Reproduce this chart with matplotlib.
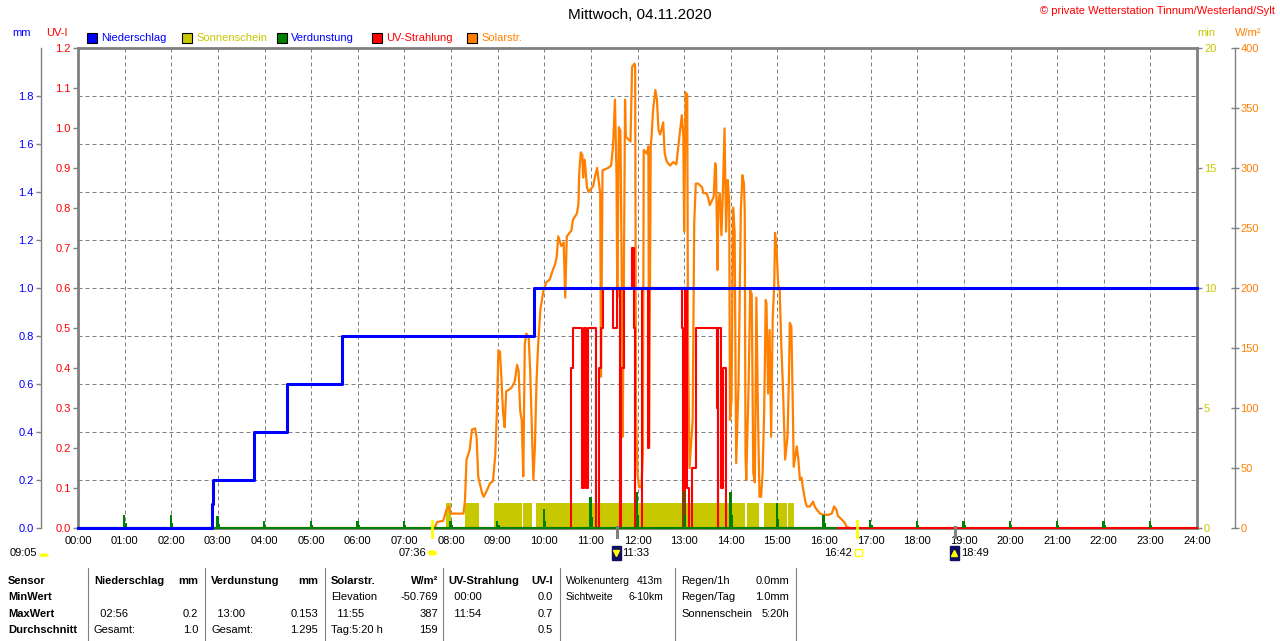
import matplotlib
matplotlib.use("Agg")
import matplotlib.pyplot as plt
import matplotlib.transforms as mtransforms
from matplotlib.patches import Rectangle, Circle, Wedge
from matplotlib.lines import Line2D

plt.rcParams['font.family'] = ['Liberation Sans', 'DejaVu Sans']

# ------------------------------------------------------------------ data
title = "Mittwoch, 04.11.2020"
copyright_text = "© private Wetterstation Tinnum/Westerland/Sylt"
hour_labels = ["%02d:00" % h for h in range(25)]

legend_names = ["Niederschlag", "Sonnenschein", "Verdunstung", "UV-Strahlung", "Solarstr."]

# Niederschlag, cumulative mm (minutes since midnight)
rain_t = [0, 172, 174, 226, 269, 340, 587, 1440]
rain_v = [0, 0.1, 0.2, 0.4, 0.6, 0.8, 1.0, 1.0]

# Verdunstung, mm per hour
evap_hours = list(range(1, 24))
evap_v = [0.055, 0.055, 0.05, 0.03, 0.03, 0.03, 0.03, 0.03, 0.03, 0.08, 0.13, 0.15,
          0.153, 0.15, 0.105, 0.055, 0.033, 0.03, 0.03, 0.03, 0.03, 0.03, 0.03]
evap_last = 976

# Sonnenschein, minutes of sun (per minute) intervals
sun_start = [474, 498, 535, 573, 589, 846, 861, 883, 914]
sun_end = [480, 516, 571, 584, 845, 858, 876, 912, 921]
sun_value = 1.05

# UV index
uv_t = [0, 635, 637, 649, 651, 654, 656, 666, 667, 671, 673, 675, 689, 694, 697, 699,
        702, 713, 715, 717, 726, 734, 735, 777, 779, 781, 784, 786, 790, 795, 822, 823,
        824, 828, 830, 834, 1440]
uv_v = [0, 0.4, 0.5, 0.1, 0.5, 0.1, 0.5, 0.2, 0, 0.4, 0.5, 0.6, 0.5, 0.6, 0, 0.4,
        0.6, 0.7, 0.5, 0, 0.6, 0.2, 0.6, 0.5, 0, 0.6, 0.1, 0, 0.15, 0.5, 0.3, 0,
        0.5, 0.1, 0.4, 0, 0]

# Solarstrahlung W/m2
solar_t = [459, 462, 470, 474, 477, 480, 496, 498, 500, 504, 507, 511, 513, 515, 520, 522,
           526, 530, 534, 537, 539, 541, 543, 545, 547, 549, 551, 554, 558, 562, 565, 567,
           569, 571, 573, 575, 577, 580, 582, 584, 586, 588, 590, 592, 595, 597, 599, 603,
           607, 610, 614, 616, 618, 622, 625, 627, 629, 635, 637, 642, 644, 645, 647, 649,
           650, 652, 655, 657, 663, 665, 668, 672, 673, 675, 682, 686, 688, 689, 691, 693,
           694, 696, 698, 700, 701, 704, 705, 711, 713, 716, 717, 718, 720, 722, 725, 727,
           728, 732, 734, 735, 737, 738, 740, 743, 745, 747, 749, 751, 753, 755, 758, 762,
           766, 770, 775, 777, 779, 780, 782, 784, 785, 787, 791, 793, 795, 798, 803, 805,
           809, 811, 813, 818, 820, 821, 823, 824, 826, 828, 830, 832, 834, 836, 838, 839,
           841, 843, 845, 847, 850, 853, 855, 857, 858, 859, 860, 863, 865, 867, 869, 871,
           873, 875, 877, 879, 881, 883, 885, 886, 888, 890, 892, 894, 896, 897, 899, 901,
           903, 905, 907, 910, 913, 915, 916, 918, 920, 921, 925, 927, 929, 931, 933, 936,
           938, 942, 946, 948, 951, 955, 959, 966, 970, 973, 976, 978, 983, 987, 989, 994]
solar_v = [0, 5, 6, 15, 18, 12, 12, 23, 57, 65, 82, 83, 75, 43, 29, 26,
           31, 37, 39, 61, 96, 148, 147, 123, 96, 84, 114, 115, 117, 122, 136, 131,
           98, 90, 43, 154, 162, 159, 129, 84, 40, 68, 121, 151, 182, 190, 198, 205,
           207, 213, 220, 226, 243, 235, 238, 192, 243, 248, 257, 262, 270, 296, 313, 311,
           292, 307, 284, 280, 285, 292, 300, 279, 126, 298, 300, 302, 315, 325, 357, 293,
           192, 334, 331, 190, 76, 357, 326, 322, 384, 387, 385, 100, 45, 34, 34, 62,
           315, 312, 318, 68, 318, 325, 348, 365, 357, 332, 328, 332, 338, 312, 305, 302,
           305, 303, 332, 344, 327, 247, 363, 361, 151, 50, 90, 254, 287, 287, 284, 279,
           279, 275, 269, 276, 304, 301, 215, 270, 279, 244, 283, 333, 247, 290, 272, 90,
           107, 267, 247, 54, 120, 265, 294, 287, 265, 60, 40, 120, 198, 195, 46, 38,
           192, 95, 26, 26, 46, 97, 190, 187, 112, 165, 76, 175, 203, 246, 232, 203,
           198, 153, 120, 57, 76, 129, 171, 168, 96, 51, 68, 57, 40, 42, 33, 22,
           18, 18, 22, 18, 15, 12, 11, 11, 12, 18, 15, 10, 7, 4, 1, 0]

# astronomical marks (minutes)
sunrise = 456
sunset = 1002
moon_set = 693
moon_rise = 1129
extra_time_label = "09:05"

# table
table_rows = ["Sensor", "MinWert", "MaxWert", "Durchschnitt"]
table_cols = [
    [("Niederschlag", "mm"), ("", ""), ("  02:56", "0.2"), ("Gesamt:", "1.0")],
    [("Verdunstung", "mm"), ("", ""), ("  13:00", "0.153"), ("Gesamt:", "1.295")],
    [("Solarstr.", "W/m²"), ("Elevation", "-50.769"), ("  11:55", "387"), ("Tag:5:20 h", "159")],
    [("UV-Strahlung", "UV-I"), ("  00:00", "0.0"), ("  11:54", "0.7"), ("", "0.5")],
    [("Wolkenunterg", "413m"), ("Sichtweite", "6-10km"), ("", ""), ("", "")],
    [("Regen/1h", "0.0mm"), ("Regen/Tag", "1.0mm"), ("Sonnenschein", "5:20h"), ("", "")],
]
table_header_bold = [True, True, True, True, False, False]

# ------------------------------------------------------------------ style
W, H = 1280, 641
BLUE = '#0000ff'
OLIVE = '#c8c800'
GREEN = '#008000'
RED = '#ff0000'
ORANGE = '#ff8000'
GRAY = '#808080'
FS = 8

def fx(x):
    return x / W

def fy(y):
    return 1 - y / H

fig = plt.figure(figsize=(W / 100, H / 100), dpi=100)
L, R, T, B = 78, 1197, 48, 528
rect = [fx(L), fy(B), (R - L) / W, (B - T) / H]

# base axes: mm scale + grid
ax0 = fig.add_axes(rect)
ax0.set_xlim(0, 1440)
ax0.set_ylim(0, 2.0)
for s in ['top', 'right', 'bottom']:
    ax0.spines[s].set_visible(False)
ax0.spines['left'].set_position(('outward', 37 * 0.72))
ax0.spines['left'].set_color(GRAY)
ax0.spines['left'].set_linewidth(1)
mm_ticks = [0.0, 0.2, 0.4, 0.6, 0.8, 1.0, 1.2, 1.4, 1.6, 1.8]
ax0.set_yticks(mm_ticks)
ax0.set_yticklabels(["%.1f" % v for v in mm_ticks])
ax0.tick_params(axis='y', colors=GRAY, labelcolor=BLUE, length=3.6, width=1,
                direction='out', pad=1.5, labelsize=FS)
ax0.set_xticks(range(0, 1441, 60))
ax0.set_xticklabels(hour_labels)
ax0.tick_params(axis='x', length=0, pad=6, labelsize=FS, labelcolor='black')
ax0.grid(True, color=GRAY, linestyle=(0, (4, 3)), linewidth=0.72)

# sunshine minutes
ax_min = ax0.twinx()
ax_min.set_ylim(0, 20)
for s in ['top', 'left', 'bottom']:
    ax_min.spines[s].set_visible(False)
ax_min.spines['right'].set_color(GRAY)
ax_min.spines['right'].set_linewidth(2)
ax_min.set_yticks([0, 5, 10, 15, 20])
ax_min.tick_params(axis='y', colors=GRAY, labelcolor=OLIVE, length=3.6, width=1,
                   direction='out', pad=1.5, labelsize=FS)
ax_min.bar(sun_start, [sun_value] * len(sun_start),
           width=[e - s for s, e in zip(sun_start, sun_end)],
           align='edge', color=OLIVE, linewidth=0)

# solar radiation
ax_w = ax0.twinx()
ax_w.set_ylim(0, 400)
for s in ['top', 'left', 'bottom']:
    ax_w.spines[s].set_visible(False)
ax_w.spines['right'].set_position(('outward', 38 * 0.72))
ax_w.spines['right'].set_color(GRAY)
ax_w.spines['right'].set_linewidth(1)
ax_w.set_yticks(range(0, 401, 50))
ax_w.tick_params(axis='y', colors=GRAY, labelcolor=ORANGE, length=6, width=1,
                 direction='inout', pad=1, labelsize=FS)
ax_w.plot(solar_t, solar_v, color=ORANGE, linewidth=1.6, clip_on=False)

# UV index + plot frame
ax_uv = ax0.twinx()
ax_uv.set_ylim(0, 1.2)
ax_uv.yaxis.tick_left()
ax_uv.yaxis.set_label_position('left')
ax_uv.spines['right'].set_visible(False)
for s in ['left', 'top', 'bottom']:
    ax_uv.spines[s].set_color(GRAY)
    ax_uv.spines[s].set_linewidth(2)
uv_ticks = [i / 10 for i in range(13)]
ax_uv.set_yticks(uv_ticks)
ax_uv.set_yticklabels(["%.1f" % v for v in uv_ticks])
ax_uv.tick_params(axis='y', colors=GRAY, labelcolor=RED, length=3.6, width=1,
                  direction='out', pad=1.5, labelsize=FS)
ax_uv.plot(uv_t, uv_v, color=RED, linewidth=1.5, drawstyle='steps-post',
           clip_on=False, zorder=3)

# evaporation + rain on top
ax_top = ax0.twinx()
ax_top.set_ylim(0, 2.0)
ax_top.yaxis.set_visible(False)
for s in ax_top.spines.values():
    s.set_visible(False)
gx, gy = [0], [0]
for h, v in zip(evap_hours, evap_v):
    t = h * 60
    gx += [t - 2, t + 1, t + 2.5]
    gy += [v, v * 0.35, 0]
gx.append(1440)
gy.append(0)
ax_top.fill_between(gx, 0, gy, step='post', color=GREEN, linewidth=0, zorder=3)
ax_top.plot([0, evap_last], [0, 0], color=GREEN, linewidth=1.5, clip_on=False, zorder=3)
ax_top.plot(rain_t, rain_v, color=BLUE, linewidth=2.2, drawstyle='steps-post',
            clip_on=False, zorder=4)

# sunrise / sunset / moon marks below axis
trans = mtransforms.blended_transform_factory(ax0.transData, ax0.transAxes)
for t in (sunrise, sunset):
    fig.add_artist(Line2D([t, t], [0.0146, -0.019], transform=trans, color='#ffff00',
                          linewidth=2.0))
for t in (moon_set, moon_rise):
    fig.add_artist(Line2D([t, t], [0.002, -0.019], transform=trans, color=GRAY,
                          linewidth=2.2))

def tstr(m):
    return "%02d:%02d" % (m // 60, m % 60)

def ptx(t):
    return L + (R - L) * t / 1440

yrow = 553
fig.text(fx(10), fy(yrow), extra_time_label, fontsize=FS, va='center', ha='left')
fig.add_artist(Wedge((fx(44), fy(yrow + 3)), 4 / W, 0, 180, color='#ffff00',
                     transform=fig.transFigure))
fig.text(fx(ptx(sunrise) - 6), fy(yrow), tstr(sunrise), fontsize=FS, va='center', ha='right')
fig.add_artist(Circle((fx(ptx(sunrise)), fy(yrow)), 4 / W, color='#ffff00',
                      transform=fig.transFigure))
fig.text(fx(ptx(sunset) - 5), fy(yrow), tstr(sunset), fontsize=FS, va='center', ha='right')
fig.add_artist(Rectangle((fx(ptx(sunset) - 2), fy(yrow + 3)), 7 / W, 7 / H, fill=False,
                         edgecolor='#ffff00', linewidth=1, transform=fig.transFigure))
for t, mk in ((moon_set, 'v'), (moon_rise, '^')):
    x0 = ptx(t) - 5
    fig.add_artist(Rectangle((fx(x0), fy(yrow + 7)), 9 / W, 14 / H, color='#101060',
                             transform=fig.transFigure))
    fig.add_artist(Line2D([fx(x0 + 4)], [fy(yrow)], marker=mk, color='#ffff00',
                          markersize=4, transform=fig.transFigure))
    fig.text(fx(x0 + 11), fy(yrow), tstr(t), fontsize=FS, va='center', ha='left')

# titles & headers
fig.text(0.5, fy(15), title, fontsize=11, ha='center', va='center')
fig.text(fx(1275), fy(11), copyright_text, fontsize=8, ha='right', va='center', color=RED)
fig.text(fx(22), fy(33), "mm", fontsize=FS, color=BLUE, ha='center', va='center')
fig.text(fx(57), fy(33), "UV-I", fontsize=FS, color=RED, ha='center', va='center')
fig.text(fx(1206), fy(33), "min", fontsize=FS, color=OLIVE, ha='center', va='center')
fig.text(fx(1248), fy(33), "W/m²", fontsize=FS, color=ORANGE, ha='center', va='center')

legend_colors = [BLUE, OLIVE, GREEN, RED, ORANGE]
legend_text_colors = [BLUE, OLIVE, BLUE, RED, ORANGE]
legend_x = [87, 182, 277, 372, 467]
for x, name, c, tc in zip(legend_x, legend_names, legend_colors, legend_text_colors):
    fig.add_artist(Rectangle((fx(x), fy(43)), 10 / W, 10 / H, facecolor=c,
                             edgecolor='black', linewidth=0.8, transform=fig.transFigure))
    fig.text(fx(x + 14), fy(38), name, fontsize=FS, color=tc, ha='left', va='center')

# table
row_y = [581, 597, 614, 630]
col_left = [94, 211, 331, 448, 566, 681]
col_right = [198, 318, 438, 553, 663, 789]
seps = [88, 205, 325, 443, 560, 675, 796]
for x in seps:
    fig.add_artist(Line2D([fx(x), fx(x)], [fy(568), fy(641)], color=GRAY, linewidth=0.8,
                          transform=fig.transFigure))
for y, lab in zip(row_y, table_rows):
    fig.text(fx(8), fy(y), lab, fontsize=FS, fontweight='bold', ha='left', va='center')
for ci, col in enumerate(table_cols):
    for ri, (lt, rt) in enumerate(col):
        bold = (ri == 0 and table_header_bold[ci])
        fw = 'bold' if bold else 'normal'
        fs = FS if (bold or ci != 4) else 7.5
        if lt:
            fig.text(fx(col_left[ci]), fy(row_y[ri]), lt, fontsize=fs, fontweight=fw,
                     ha='left', va='center')
        if rt:
            fig.text(fx(col_right[ci]), fy(row_y[ri]), rt, fontsize=fs, fontweight=fw,
                     ha='right', va='center')

fig.savefig("out.png", dpi=100)
